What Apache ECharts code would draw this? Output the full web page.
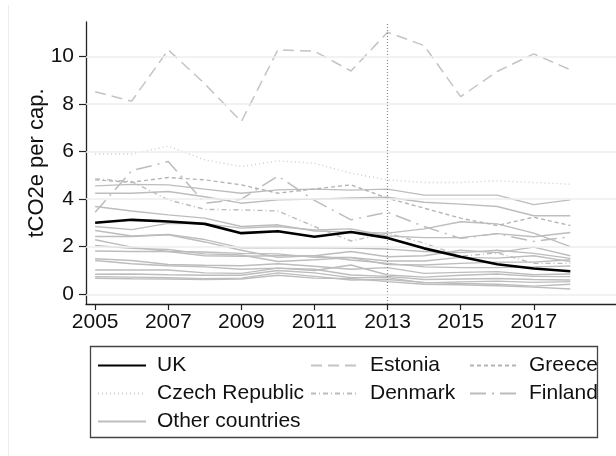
<!DOCTYPE html>
<html>
<head>
<meta charset="utf-8">
<script src="https://cdn.jsdelivr.net/npm/echarts@6/dist/echarts.min.js"></script>
<style>
  html, body { margin: 0; padding: 0; background: #fff; }
  #chart { width: 616px; height: 456px; }
</style>
</head>
<body>
<div id="chart"></div>
<script>
// Emissions per capita (tCO2e), 2005-2018
var years = [2005, 2006, 2007, 2008, 2009, 2010, 2011, 2012, 2013, 2014, 2015, 2016, 2017, 2018];
var xTicks = [2005, 2007, 2009, 2011, 2013, 2015, 2017];
var yTicks = [0, 2, 4, 6, 8, 10];
var markYear = 2013;

var uk      = [3.01, 3.13, 3.06, 2.96, 2.57, 2.65, 2.42, 2.62, 2.37, 1.93, 1.58, 1.26, 1.08, 0.97];
var estonia = [8.52, 8.12, 10.28, 8.85, 7.26, 10.28, 10.22, 9.39, 11.02, 10.46, 8.31, 9.37, 10.11, 9.44];
var greece  = [4.81, 4.71, 4.91, 4.81, 4.60, 4.25, 4.43, 4.60, 4.04, 3.62, 3.20, 2.89, 3.24, 2.89];
var czech   = [5.90, 5.90, 6.23, 5.65, 5.37, 5.61, 5.51, 5.09, 4.81, 4.70, 4.70, 4.77, 4.70, 4.63];
var denmark = [4.85, 4.74, 3.97, 3.57, 3.55, 3.50, 2.85, 2.24, 2.57, 2.15, 1.60, 1.74, 1.30, 1.30];
var finland = [3.45, 5.20, 5.58, 3.83, 4.00, 4.97, 3.95, 3.13, 3.45, 2.85, 2.35, 2.55, 2.22, 2.42];

var others = [
  [4.56, 4.62, 4.60, 4.42, 4.25, 4.39, 4.42, 4.38, 4.42, 4.17, 4.17, 4.17, 3.77, 3.97],
  [4.25, 4.25, 4.32, 4.10, 3.83, 3.97, 4.00, 4.05, 4.08, 3.87, 3.79, 3.69, 3.30, 3.30],
  [3.69, 3.50, 3.34, 3.20, 2.85, 2.92, 2.66, 2.62, 2.57, 2.75, 3.05, 2.96, 2.57, 2.00],
  [2.85, 2.72, 2.98, 2.97, 2.78, 2.85, 2.70, 2.75, 2.45, 2.38, 2.38, 2.55, 2.42, 2.60],
  [2.68, 2.45, 2.52, 2.30, 1.95, 1.95, 1.95, 1.94, 1.90, 1.80, 1.75, 1.85, 1.72, 1.51],
  [2.43, 2.43, 2.50, 2.20, 1.85, 1.55, 1.62, 1.80, 1.58, 1.62, 1.85, 1.75, 1.98, 1.62],
  [2.29, 1.98, 1.80, 1.78, 1.72, 1.70, 1.55, 1.55, 1.40, 1.40, 1.55, 1.52, 1.62, 1.37],
  [2.05, 1.93, 1.88, 1.70, 1.65, 1.38, 1.45, 1.54, 1.25, 1.23, 1.30, 1.35, 1.35, 1.45],
  [1.82, 1.80, 1.80, 1.62, 1.60, 1.62, 1.62, 1.44, 1.30, 1.15, 1.12, 1.12, 1.15, 1.19],
  [1.49, 1.42, 1.25, 1.22, 1.20, 1.28, 1.18, 1.05, 1.12, 0.88, 0.92, 0.95, 0.82, 0.85],
  [1.42, 1.28, 1.20, 1.15, 1.05, 1.10, 1.00, 1.23, 0.81, 0.72, 0.80, 0.85, 0.75, 0.74],
  [1.02, 1.02, 1.02, 0.90, 0.88, 1.10, 1.05, 0.81, 0.75, 0.62, 0.64, 0.66, 0.62, 0.60],
  [0.84, 0.85, 0.82, 0.80, 0.80, 1.00, 0.90, 0.70, 0.70, 0.48, 0.52, 0.55, 0.50, 0.53],
  [0.74, 0.72, 0.70, 0.65, 0.68, 0.90, 0.75, 0.60, 0.62, 0.50, 0.45, 0.42, 0.34, 0.42],
  [0.67, 0.65, 0.64, 0.62, 0.64, 0.80, 0.68, 0.66, 0.53, 0.42, 0.40, 0.36, 0.30, 0.22]
];

var FONT = '"Liberation Sans", Arial, Helvetica, sans-serif';
var TEXT = '#111';

function pairs(vals) {
  return vals.map(function (v, i) { return [years[i], v]; });
}

function lineSeries(name, vals, color, width, dash, z) {
  return {
    name: name,
    type: 'line',
    data: pairs(vals),
    symbol: 'none',
    color: color,
    silent: true,
    animation: false,
    z: z,
    lineStyle: { color: color, width: width, type: dash, cap: 'butt' }
  };
}

var series = [];
others.forEach(function (vals) {
  series.push(lineSeries('Other countries', vals, '#bdbdbd', 1.4, 'solid', 2));
});
series.push(lineSeries('Czech Republic', czech, '#cdcdcd', 1.4, [1, 3], 3));
series.push(lineSeries('Greece', greece, '#b4b4b4', 1.4, [4, 3], 3));
series.push(lineSeries('Denmark', denmark, '#bcbcbc', 1.4, [5, 3, 1, 3], 3));
series.push(lineSeries('Finland', finland, '#bcbcbc', 1.5, [16, 6, 2, 6], 3));
series.push(lineSeries('Estonia', estonia, '#c4c4c4', 1.5, [11, 6], 3));

var ukSeries = lineSeries('UK', uk, '#000', 2.6, 'solid', 5);
ukSeries.markLine = {
  silent: true,
  symbol: 'none',
  label: { show: false },
  animation: false,
  lineStyle: { color: '#8a8a8a', width: 1.2, type: [1, 2] },
  data: [{ xAxis: markYear }]
};
series.push(ukSeries);

// light horizontal guides at each y tick
series.push({
  type: 'line',
  data: [],
  silent: true,
  z: 1,
  markLine: {
    silent: true,
    symbol: 'none',
    label: { show: false },
    animation: false,
    lineStyle: { color: '#e8f0f1', width: 1.5, type: 'solid' },
    data: yTicks.map(function (t) { return { yAxis: t }; })
  }
});

function legendAt(name, left, top) {
  return {
    data: [name],
    left: left,
    top: top,
    padding: 0,
    itemWidth: 48,
    itemHeight: 14,
    selectedMode: false,
    itemStyle: { opacity: 0 },
    textStyle: { fontFamily: FONT, fontSize: 21, color: TEXT, padding: [0, 0, 0, 6] }
  };
}

var chart = echarts.init(document.getElementById('chart'), null, { renderer: 'canvas' });
chart.setOption({
  backgroundColor: '#fff',
  animation: false,
  grid: { left: 86, right: 0, top: 22, bottom: 152, containLabel: false },
  xAxis: {
    type: 'value',
    min: 2004.75,
    max: 2019.25,
    axisLine: { show: true, onZero: false, lineStyle: { color: '#222', width: 1.3 } },
    axisTick: { show: true, length: 6, customValues: xTicks, lineStyle: { color: '#222', width: 1.2 } },
    axisLabel: {
      customValues: xTicks,
      margin: 8,
      fontFamily: FONT, fontSize: 21, color: TEXT,
      formatter: function (v) { return String(v); }
    },
    splitLine: { show: false }
  },
  yAxis: {
    type: 'value',
    min: -0.41,
    max: 11.45,
    name: 'tCO2e per cap.',
    nameLocation: 'middle',
    nameGap: 38,
    nameMoveOverlap: false,
    nameTextStyle: { fontFamily: FONT, fontSize: 22, color: TEXT },
    axisLine: { show: true, onZero: false, lineStyle: { color: '#222', width: 1.3 } },
    axisTick: { show: true, length: 7, customValues: yTicks, lineStyle: { color: '#222', width: 1.2 } },
    axisLabel: {
      customValues: yTicks,
      margin: 12,
      fontFamily: FONT, fontSize: 21, color: TEXT,
      formatter: function (v) { return String(v); }
    },
    splitLine: { show: false }
  },
  legend: [
    legendAt('UK', 97, 355),
    legendAt('Czech Republic', 97, 383),
    legendAt('Other countries', 97, 411),
    legendAt('Estonia', 310, 355),
    legendAt('Denmark', 310, 383),
    legendAt('Greece', 469, 355),
    legendAt('Finland', 469, 383)
  ],
  graphic: [
    {
      type: 'rect',
      silent: true,
      shape: { x: 90.5, y: 346.5, width: 507, height: 91 },
      style: { fill: 'none', stroke: '#444', lineWidth: 1.3 }
    },
    {
      type: 'line',
      silent: true,
      shape: { x1: 8.5, y1: 5, x2: 8.5, y2: 456 },
      style: { stroke: '#eceeef', lineWidth: 1 }
    }
  ],
  series: series
});
</script>
</body>
</html>
